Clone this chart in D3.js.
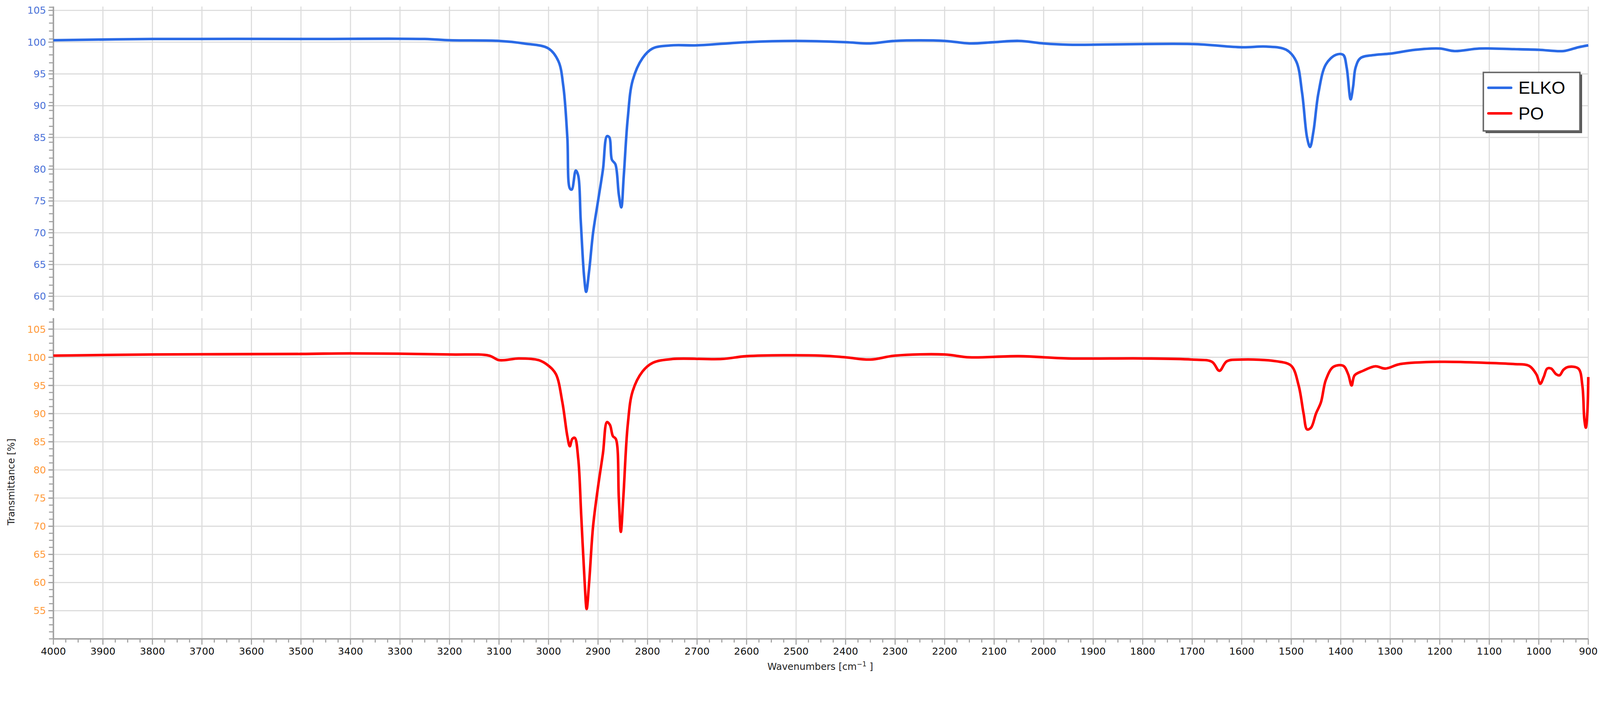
<!DOCTYPE html>
<html><head><meta charset="utf-8">
<script src="https://cdn.jsdelivr.net/npm/d3@7"></script>
<style>html,body{margin:0;padding:0;background:#fff;overflow:hidden}svg{display:block;font-family:"DejaVu Sans",Verdana,sans-serif}</style>
</head><body>
<script>
const xTicks = d3.range(4000, 899, -100);
const elkoWn = [4000,3800,3500,3250,3200,3100,3050,3000,2980,2970,2962,2957,2953,2945,2940,2935,2928,2924,2918,2910,2900,2890,2882,2877,2872,2865,2858,2853,2848,2840,2830,2810,2790,2750,2700,2600,2500,2400,2350,2300,2200,2150,2100,2050,2000,1950,1700,1600,1550,1510,1490,1478,1468,1462,1455,1445,1430,1410,1395,1388,1380,1375,1370,1360,1330,1300,1250,1200,1170,1120,1050,1000,950,920,900];
const elkoT = [100.3,100.5,100.5,100.5,100.3,100.2,99.8,99,97,93,85,77,76.8,79.8,79,72,63,60.7,64,70,75,80,85.2,85,81.5,80.8,76,74,79,88,94,97.5,99,99.5,99.5,100,100.2,100,99.8,100.2,100.2,99.8,100,100.2,99.8,99.6,99.7,99.2,99.3,98.8,97,92,85,83.5,86,92,96.5,98,98,96,91,93,96,97.5,98,98.2,98.8,99,98.6,99,98.9,98.8,98.6,99.2,99.5];
const poWn = [4000,3800,3500,3400,3200,3120,3100,3060,3020,3000,2985,2972,2962,2957,2952,2947,2940,2934,2927,2923,2918,2910,2900,2890,2882,2876,2870,2864,2858,2854,2849,2840,2830,2810,2790,2750,2650,2600,2450,2400,2350,2300,2200,2150,2050,1950,1800,1700,1660,1645,1630,1600,1530,1500,1485,1475,1468,1460,1450,1440,1430,1415,1395,1385,1378,1372,1355,1330,1310,1280,1200,1100,1050,1020,1005,997,990,983,975,965,958,950,940,920,912,908,905,902,900];
const poT = [100.3,100.5,100.6,100.7,100.5,100.3,99.5,99.8,99.5,98.5,97,92,86,84.2,85.5,85.7,82,72,60,55.3,60,70,77,83,88.5,88,86,85.5,75,69,75,88,94,97.5,99,99.7,99.7,100.2,100.3,100,99.6,100.3,100.5,100,100.2,99.8,99.8,99.6,99.2,97.6,99.3,99.6,99.3,98.5,95,90,87.2,87.5,90,92,96,98.3,98.5,97,95,96.8,97.6,98.4,98,98.8,99.2,99,98.8,98.5,97,95.3,96.5,98,98,97,96.8,97.8,98.3,98,95,89,87.5,90,96.5];
const upperTicks = d3.range(60, 106, 5);
const lowerTicks = d3.range(55, 106, 5);
const seriesNames = ["ELKO","PO"];
const seriesColors = ["#2a6ae6","#ff0000"];

const W=4375,H=1851, L=146, R=4343;
const svg=d3.select("body").append("svg").attr("width","100%").attr("viewBox",`0 0 ${W} ${H}`).attr("preserveAspectRatio","xMinYMin meet");
const x=d3.scaleLinear().domain([4000,900]).range([L,R]);
const yU=d3.scaleLinear().domain([58,105.6]).range([845,18]);
const yL=d3.scaleLinear().domain([50,106.5]).range([1747,877]);
const grid="#dcdcdc", axc="#a0a0a0";

function panel(y, ticks, top, bottom, labColor){
  const g=svg.append("g");
  ticks.forEach(t=>g.append("line").attr("x1",L).attr("x2",R).attr("y1",y(t)).attr("y2",y(t)).attr("stroke",grid).attr("stroke-width",3));
  xTicks.forEach(t=>g.append("line").attr("x1",x(t)).attr("x2",x(t)).attr("y1",top).attr("y2",bottom).attr("stroke",grid).attr("stroke-width",3));
  const minor=d3.range(y.domain()[0],y.domain()[1],1.25);
  minor.forEach(t=>g.append("line").attr("x1",L-12).attr("x2",L).attr("y1",y(t)).attr("y2",y(t)).attr("stroke",axc).attr("stroke-width",3));
  ticks.forEach(t=>{
    g.append("line").attr("x1",L-14).attr("x2",L).attr("y1",y(t)).attr("y2",y(t)).attr("stroke",axc).attr("stroke-width",3);
    g.append("text").attr("x",L-20).attr("y",y(t)).attr("dy","0.35em").attr("text-anchor","end").attr("font-size",27).attr("fill",labColor).text(t);
  });
  g.append("line").attr("x1",L).attr("x2",L).attr("y1",top).attr("y2",bottom).attr("stroke",axc).attr("stroke-width",4);
}
panel(yU, upperTicks, 18, 850, "#4a72d8");
panel(yL, lowerTicks, 870, 1747, "#ff9a3a");

svg.append("line").attr("x1",L).attr("x2",R).attr("y1",1747).attr("y2",1747).attr("stroke",axc).attr("stroke-width",4);
d3.range(4000,899,-25).forEach(t=>{
  const major=t%100===0;
  svg.append("line").attr("x1",x(t)).attr("x2",x(t)).attr("y1",1747).attr("y2",1747+(major?16:10)).attr("stroke",axc).attr("stroke-width",3);
});
xTicks.forEach(t=>svg.append("text").attr("x",x(t)).attr("y",1790).attr("text-anchor","middle").attr("font-size",27).attr("fill","#111").text(t));
const xl=svg.append("text").attr("x",2243).attr("y",1832).attr("text-anchor","middle").attr("font-size",26).attr("fill","#222");
xl.append("tspan").text("Wavenumbers [cm");
xl.append("tspan").attr("dy",-10).attr("font-size",18).text("\u22121");
xl.append("tspan").attr("dy",10).text(" ]");
svg.append("text").attr("transform","translate(40,1318) rotate(-90)").attr("text-anchor","middle").attr("font-size",26).attr("fill","#222").text("Transmittance [%]");

const lineU=d3.line().curve(d3.curveCatmullRom.alpha(0.5)).x((d,i)=>x(elkoWn[i])).y(d=>yU(d));
const lineL=d3.line().curve(d3.curveCatmullRom.alpha(0.5)).x((d,i)=>x(poWn[i])).y(d=>yL(d));
svg.append("path").attr("d",lineU(elkoT)).attr("fill","none").attr("stroke",seriesColors[0]).attr("stroke-width",7).attr("stroke-linejoin","round");
svg.append("path").attr("d",lineL(poT)).attr("fill","none").attr("stroke",seriesColors[1]).attr("stroke-width",7).attr("stroke-linejoin","round");

const lg=svg.append("g");
lg.append("rect").attr("x",4062).attr("y",204).attr("width",264).attr("height",160).attr("fill","#555");
lg.append("rect").attr("x",4056).attr("y",198).attr("width",264).attr("height",160).attr("fill","#fff").attr("stroke","#666").attr("stroke-width",4);
seriesNames.forEach((n,i)=>{
  const yy=240+i*70;
  lg.append("line").attr("x1",4070).attr("x2",4132).attr("y1",yy).attr("y2",yy).attr("stroke",seriesColors[i]).attr("stroke-width",7).attr("stroke-linecap","round");
  lg.append("text").attr("x",4152).attr("y",yy).attr("dy","0.35em").attr("font-size",48).attr("font-family","Liberation Sans, Arial").attr("fill","#000").text(n);
});
</script>
</body></html>
